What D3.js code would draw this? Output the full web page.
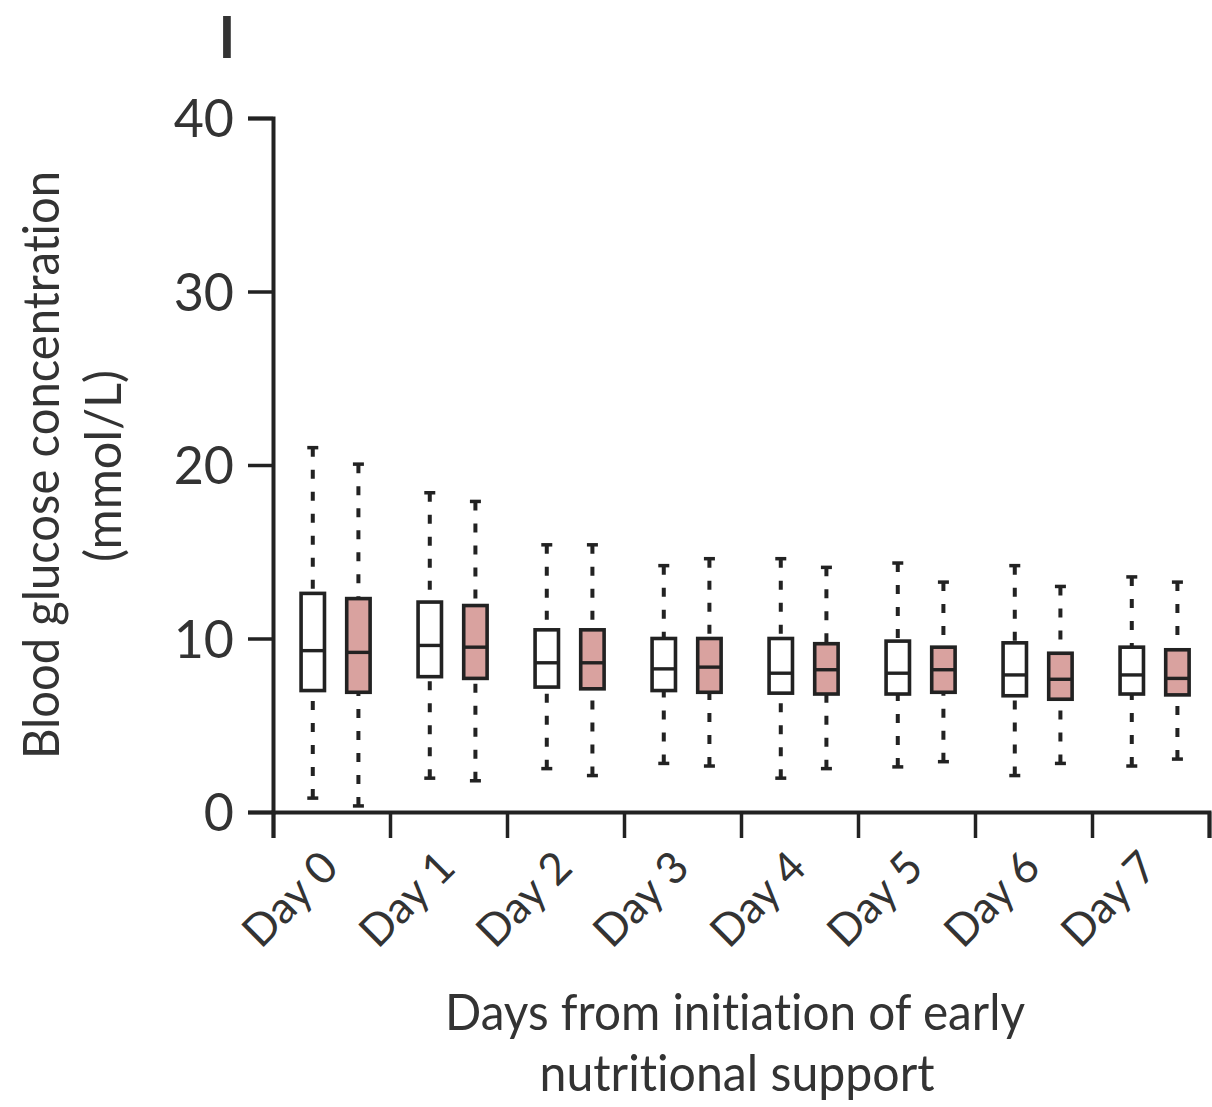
<!DOCTYPE html>
<html>
<head>
<meta charset="utf-8">
<script src="https://cdn.jsdelivr.net/npm/d3@7"></script>
<style>
  html, body { margin: 0; padding: 0; background: #fff; }
  svg text { font-family: Lato, "Open Sans", sans-serif; fill: #333;
             font-variant-ligatures: none; font-feature-settings: "liga" 0, "clig" 0; }
</style>
</head>
<body>
<svg id="chart" width="1212" height="1107"></svg>
<script>
// ---- data (mmol/L) ----
const days = ["Day 0", "Day 1", "Day 2", "Day 3", "Day 4", "Day 5", "Day 6", "Day 7"];
const yTicks = [0, 10, 20, 30, 40];

// white boxes
const ctrlHigh = [21.0, 18.4, 15.4, 14.2, 14.6, 14.35, 14.2, 13.55];
const ctrlQ3   = [12.6, 12.1, 10.5, 10.0, 10.0, 9.85, 9.75, 9.5];
const ctrlMed  = [9.3, 9.6, 8.6, 8.25, 8.0, 8.0, 7.9, 7.9];
const ctrlQ1   = [7.0, 7.8, 7.2, 7.0, 6.85, 6.8, 6.7, 6.8];
const ctrlLow  = [0.8, 1.95, 2.5, 2.8, 1.95, 2.6, 2.1, 2.65];

// pink boxes
const earlyHigh = [20.05, 17.9, 15.4, 14.6, 14.1, 13.25, 13.0, 13.25];
const earlyQ3   = [12.3, 11.9, 10.5, 10.0, 9.7, 9.5, 9.15, 9.35];
const earlyMed  = [9.2, 9.5, 8.6, 8.35, 8.2, 8.2, 7.65, 7.7];
const earlyQ1   = [6.9, 7.7, 7.1, 6.9, 6.8, 6.9, 6.5, 6.75];
const earlyLow  = [0.35, 1.8, 2.1, 2.65, 2.5, 2.9, 2.8, 3.05];

const seriesNames = ["control", "early"];
const seriesFill = ["#ffffff", "#d9a29f"];

(function () {
// ---- layout ----
const svg = d3.select("#chart");
const plotL = 273, plotR = 1209, plotT = 118, plotB = 812;
const lineCol = "#222";

const x = d3.scaleBand().domain(days).range([plotL, plotR]).paddingInner(0).paddingOuter(0);
const xEdge = d3.scaleLinear().domain([0, days.length]).range([plotL, plotR]);
const y = d3.scaleLinear().domain([0, 40]).range([plotB, plotT]);

const series = [
  { name: seriesNames[0], fill: seriesFill[0], off: 0.34,
    high: ctrlHigh, q3: ctrlQ3, med: ctrlMed, q1: ctrlQ1, low: ctrlLow },
  { name: seriesNames[1], fill: seriesFill[1], off: 0.73,
    high: earlyHigh, q3: earlyQ3, med: earlyMed, q1: earlyQ1, low: earlyLow }
];

const boxW = x.bandwidth() * 0.2;
const capW = 11;

// ---- axes ----
const yAxis = d3.axisLeft(y).tickValues(yTicks).tickSize(25).tickSizeOuter(25).tickPadding(14);
const gy = svg.append("g").attr("transform", `translate(${plotL},0)`).call(yAxis);
gy.selectAll("path.domain").attr("stroke", lineCol).attr("stroke-width", 4).attr("fill", "none");
gy.selectAll(".tick line").attr("stroke", lineCol).attr("stroke-width", 3.5);
gy.selectAll(".tick text")
  .style("font-size", "52px")
  .attr("fill", "#333")
  .attr("dy", "0.36em");

const xAxis = d3.axisBottom(xEdge).tickValues(d3.range(0, days.length + 1))
  .tickSize(26).tickSizeOuter(26).tickFormat("");
const gx = svg.append("g").attr("transform", `translate(0,${plotB})`).call(xAxis);
gx.selectAll("path.domain").attr("stroke", lineCol).attr("stroke-width", 4).attr("fill", "none");
gx.selectAll(".tick line").attr("stroke", lineCol).attr("stroke-width", 3.5);

// day labels (rotated)
svg.append("g").selectAll("text").data(days).join("text")
  .attr("transform", d => `translate(${x(d) + x.bandwidth() / 2 + 9},${plotB + 58}) rotate(-45)`)
  .attr("text-anchor", "end")
  .style("font-size", "44px")
  .text(d => d);

// ---- boxes ----
series.forEach(s => {
  const g = svg.append("g");
  days.forEach((d, i) => {
    const cx = x(d) + x.bandwidth() * s.off;
    g.append("line")
      .attr("x1", cx).attr("x2", cx)
      .attr("y1", y(s.high[i])).attr("y2", y(s.q3[i]))
      .attr("stroke", lineCol).attr("stroke-width", 4)
      .attr("stroke-dasharray", "9,13");
    g.append("line")
      .attr("x1", cx).attr("x2", cx)
      .attr("y1", y(s.low[i])).attr("y2", y(s.q1[i]))
      .attr("stroke", lineCol).attr("stroke-width", 4)
      .attr("stroke-dasharray", "9,13");
    [s.high[i], s.low[i]].forEach(v => {
      g.append("line")
        .attr("x1", cx - capW / 2).attr("x2", cx + capW / 2)
        .attr("y1", y(v)).attr("y2", y(v))
        .attr("stroke", lineCol).attr("stroke-width", 3.5);
    });
    g.append("rect")
      .attr("x", cx - boxW / 2).attr("width", boxW)
      .attr("y", y(s.q3[i])).attr("height", y(s.q1[i]) - y(s.q3[i]))
      .attr("fill", s.fill).attr("stroke", lineCol).attr("stroke-width", 3.6);
    g.append("line")
      .attr("x1", cx - boxW / 2).attr("x2", cx + boxW / 2)
      .attr("y1", y(s.med[i])).attr("y2", y(s.med[i]))
      .attr("stroke", lineCol).attr("stroke-width", 3.4);
  });
});

// ---- titles ----
svg.append("text")
  .attr("transform", `translate(59,465) rotate(-90)`)
  .attr("text-anchor", "middle")
  .attr("textLength", 588).attr("lengthAdjust", "spacingAndGlyphs")
  .style("font-size", "51px")
  .text("Blood glucose concentration");
svg.append("text")
  .attr("transform", `translate(121,466) rotate(-90)`)
  .attr("text-anchor", "middle")
  .attr("textLength", 192).attr("lengthAdjust", "spacingAndGlyphs")
  .style("font-size", "51px")
  .text("(mmol/L)");

svg.append("text")
  .attr("x", 735).attr("y", 1030)
  .attr("text-anchor", "middle")
  .attr("textLength", 580).attr("lengthAdjust", "spacingAndGlyphs")
  .style("font-size", "50px")
  .text("Days from initiation of early");
svg.append("text")
  .attr("x", 737).attr("y", 1091)
  .attr("text-anchor", "middle")
  .attr("textLength", 395).attr("lengthAdjust", "spacingAndGlyphs")
  .style("font-size", "50px")
  .text("nutritional support");

svg.append("text")
  .attr("x", 227).attr("y", 58)
  .attr("text-anchor", "middle")
  .style("font-size", "57px")
  .style("font-weight", "700")
  .attr("fill", "#1a1a1a")
  .text("I");
})();
</script>
</body>
</html>
